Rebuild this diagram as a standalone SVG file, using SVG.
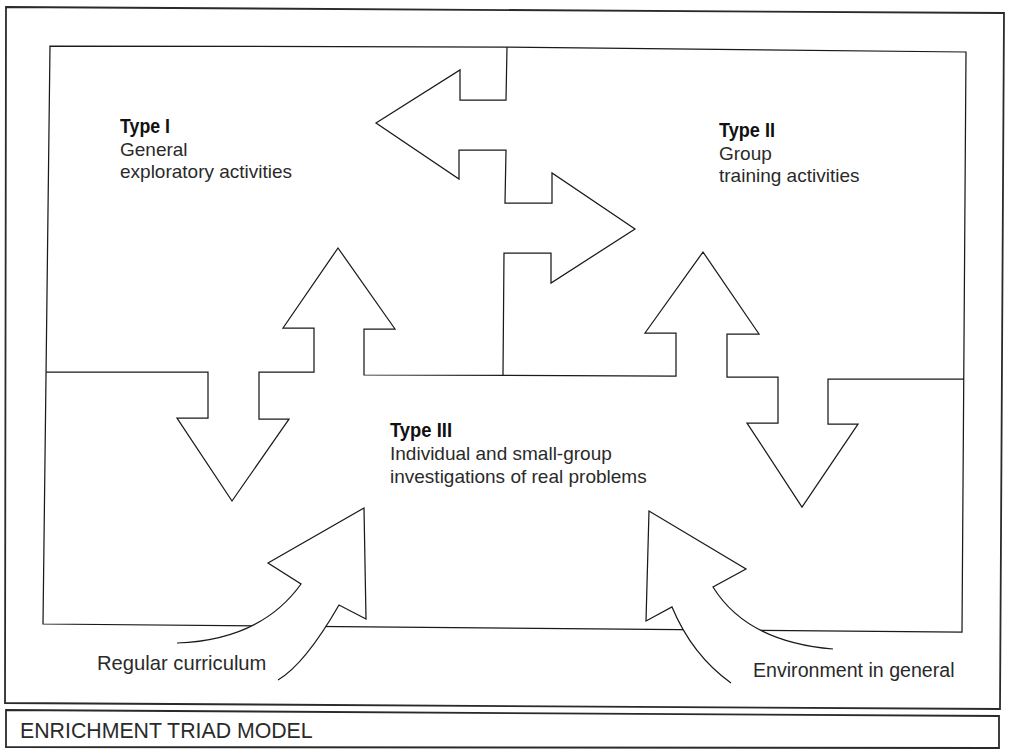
<svg xmlns="http://www.w3.org/2000/svg" width="1010" height="753" viewBox="0 0 1010 753">
<style>
.ln{fill:none;stroke:#1a1a1a;stroke-width:1.25;stroke-linejoin:miter}
.frame{fill:none;stroke:#2a2a2a;stroke-width:1.8}
.wf{fill:#fff;stroke:none}
.t{font-family:"Liberation Sans",Arial,sans-serif;font-size:19px;fill:#2a2a2a}
.b{font-family:"Liberation Sans Narrow","Liberation Sans",Arial,sans-serif;font-weight:bold;font-size:20px;fill:#111}
.cap{font-family:"Liberation Sans",Arial,sans-serif;font-size:21.3px;fill:#2a2a2a}
</style>
<rect width="1010" height="753" fill="#fff"/>
<g id="frame">
<polygon class="frame" points="6,7 1004,13 1000,709 5,703"/>
</g>
<g id="regions">
<path class="ln" d="M50,46 L507,47 L966,52 L962,632 L43,624 Z"/>
</g>
<g id="connectors">
<path class="ln" d="M507,47 L506,100 L460,100 L460,70 L376,123 L459,179 L459,150 L506,150 L505,203 L552,203 L552,173 L635,229 L551,283 L551,253 L504,253 L503,375"/>
<path class="ln" d="M46,372 L208,372 L208,418 L177,418 L232,501 L289,419 L259,419 L259,372 L314,372 L314,328 L283,328 L338,248 L395,329 L364,329 L364,375 L676,376 L676,333 L645,333 L703,252 L759,334 L727,334 L727,377 L778,377 L778,423 L747,423 L802,507 L858,424 L828,424 L828,379 L964,379"/>
<g id="arrow-regular">
<path class="wf" d="M301,584 Q261,640 177,643 L278,680 Q305,664 339,605 L366,619 L364,508 L268,563 Z"/>
<path class="ln" d="M177,643 Q261,640 301,584 L268,563 L364,508 L366,619 L339,605 Q305,664 278,680"/>
</g>
<g id="arrow-environment">
<path class="wf" d="M833,649 Q747,642 713,587 L746,569 L649,511 L646,621 L672,607 Q692,655 731,683 Z"/>
<path class="ln" d="M833,649 Q747,642 713,587 L746,569 L649,511 L646,621 L672,607 Q692,655 731,683"/>
</g>
</g>
<g id="type1">
<text class="b" x="120" y="133" textLength="50" lengthAdjust="spacingAndGlyphs">Type I</text>
<text class="t" x="120" y="156">General</text>
<text class="t" x="120" y="178">exploratory activities</text>
</g>
<g id="type2">
<text class="b" x="719" y="137" textLength="56" lengthAdjust="spacingAndGlyphs">Type II</text>
<text class="t" x="719" y="160">Group</text>
<text class="t" x="719" y="182">training activities</text>
</g>
<g id="type3">
<text class="b" x="390" y="437" textLength="62" lengthAdjust="spacingAndGlyphs">Type III</text>
<text class="t" x="390" y="460">Individual and small-group</text>
<text class="t" x="390" y="483">investigations of real problems</text>
</g>
<g id="regular-curriculum">
<text class="t" x="97" y="670" style="font-size:20.2px">Regular curriculum</text>
</g>
<g id="environment">
<text class="t" x="753" y="677" style="font-size:19.6px">Environment in general</text>
</g>
<g id="caption">
<polygon class="frame" points="6,710 999,716 999,748 6,747"/>
<text class="cap" x="20" y="738">ENRICHMENT TRIAD MODEL</text>
</g>
</svg>
